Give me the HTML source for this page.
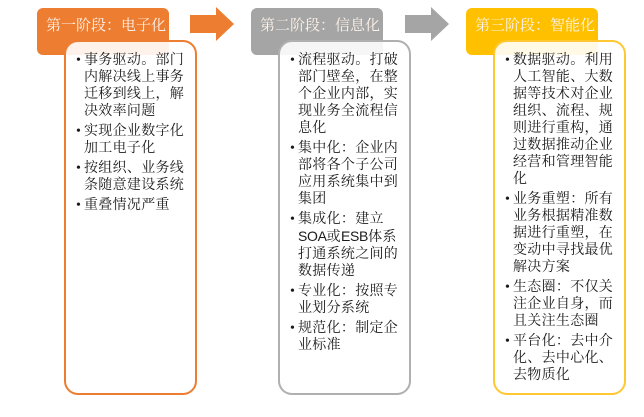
<!DOCTYPE html>
<html><head><meta charset="utf-8"><style>
body{margin:0;width:644px;height:417px;background:#fff;position:relative;overflow:hidden;font-family:"Liberation Serif","Noto Serif CJK SC",serif}
.h{position:absolute;top:8px;width:132px;height:47px;border-radius:6px;color:#fdf3ea;font-size:15px;box-sizing:border-box;padding:6px 0 0 9px;font-family:"Liberation Serif","Noto Serif CJK SC",serif}
.c{position:absolute;top:40px;width:133px;height:355px;border-radius:14px;background:rgba(255,255,255,0.9);box-sizing:border-box;border:2px solid;padding:10px 8px 0 10px}
ul{margin:0;padding:0;list-style:none}
li{position:relative;padding-left:8px;font-size:14px;line-height:17px;color:#1a1a1a;margin-bottom:3px;letter-spacing:0.3px}
li:before{content:"•";position:absolute;left:0;top:0}
.s{font-family:"Liberation Sans",sans-serif;letter-spacing:-0.3px}
</style></head><body>
<div class="h" style="left:37px;background:#ED7D31">第一阶段：电子化</div>
<div class="c" style="left:64px;border-color:#ED7D31"><ul>
<li>事务驱动。部门内解决线上事务迁移到线上，解决效率问题</li>
<li>实现企业数字化加工电子化</li>
<li>按组织、业务线条随意建设系统</li>
<li>重叠情况严重</li></ul></div>
<div class="h" style="left:251px;background:#A5A5A5">第二阶段：信息化</div>
<div class="c" style="left:278px;border-color:#B0B0B0"><ul>
<li>流程驱动。打破部门壁垒，在整个企业内部，实现业务全流程信息化</li>
<li>集中化：企业内部将各个子公司应用系统集中到集团</li>
<li>集成化：建立<span class="s">SOA</span>或<span class="s">ESB</span>体系打通系统之间的数据传递</li>
<li>专业化：按照专业划分系统</li>
<li>规范化：制定企业标准</li></ul></div>
<div class="h" style="left:466px;background:#FFC000">第三阶段：智能化</div>
<div class="c" style="left:493px;border-color:#FFC832"><ul>
<li>数据驱动。利用人工智能、大数据等技术对企业组织、流程、规则进行重构，通过数据推动企业经营和管理智能化</li>
<li>业务重塑：所有业务根据精准数据进行重塑，在变动中寻找最优解决方案</li>
<li>生态圈：不仅关注企业自身，而且关注生态圈</li>
<li>平台化：去中介化、去中心化、去物质化</li></ul></div>
<svg style="position:absolute;left:0;top:0" width="644" height="60">
<polygon points="190,15 216,15 216,7 234,24 216,41 216,33 190,33" fill="#ED7D31"/>
<polygon points="405,15 431,15 431,7 449,24 431,41 431,33 405,33" fill="#A5A5A5"/>
</svg>
</body></html>
